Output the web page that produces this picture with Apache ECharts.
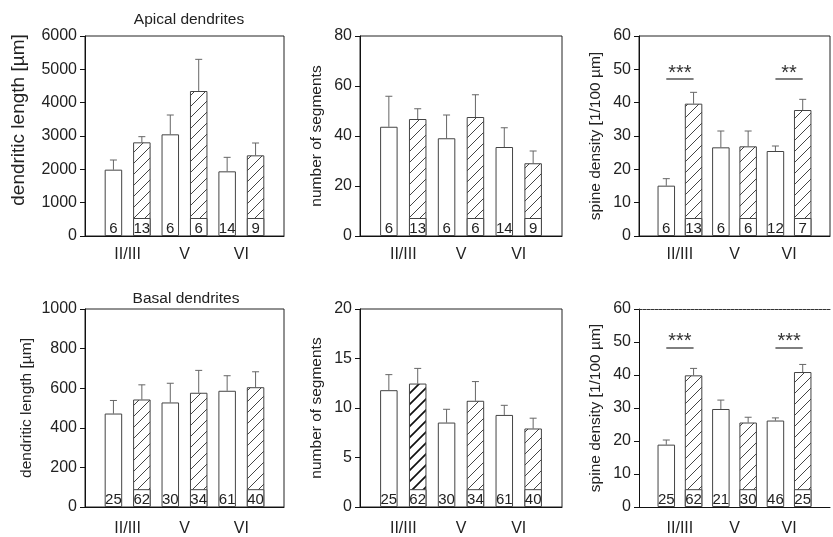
<!DOCTYPE html>
<html>
<head>
<meta charset="utf-8">
<script src="https://cdn.jsdelivr.net/npm/echarts@6/dist/echarts.min.js"></script>
<style>
html,body{margin:0;padding:0;background:#fff;}
#chart{width:833px;height:537px;}
</style>
</head>
<body>
<div id="chart"></div>
<script>
// ---- Data ----
const layers = ['II/III', 'V', 'VI'];

// Apical dendrites
const apicalLengthOpen = [1990, 3050, 1940];
const apicalLengthOpenErr = [290, 580, 420];
const apicalLengthHatch = [2810, 4350, 2420];
const apicalLengthHatchErr = [170, 950, 370];
const apicalSegOpen = [43.7, 39.1, 35.6];
const apicalSegOpenErr = [12.2, 9.3, 7.7];
const apicalSegHatch = [46.8, 47.6, 29.1];
const apicalSegHatchErr = [4.1, 8.9, 4.9];
const apicalSpineOpen = [15.1, 26.6, 25.5];
const apicalSpineOpenErr = [2.1, 4.9, 1.5];
const apicalSpineHatch = [39.7, 26.9, 37.8];
const apicalSpineHatchErr = [3.4, 4.6, 3.2];
const apicalNOpen = [6, 6, 14];
const apicalNHatch = [13, 6, 9];
const apicalSpineNOpen = [6, 6, 12];
const apicalSpineNHatch = [13, 6, 7];
const apicalSpineSig = ['***', '', '**'];
const apicalSpineSigLevel = [47.1, 0, 47.1];

// Basal dendrites
const basalLengthOpen = [472, 528, 587];
const basalLengthOpenErr = [66, 97, 76];
const basalLengthHatch = [543, 577, 605];
const basalLengthHatchErr = [74, 113, 78];
const basalSegOpen = [11.8, 8.53, 9.3];
const basalSegOpenErr = [1.57, 1.34, 0.97];
const basalSegHatch = [12.47, 10.73, 7.93];
const basalSegHatchErr = [1.53, 1.94, 1.04];
const basalSpineOpen = [18.9, 29.7, 26.2];
const basalSpineOpenErr = [1.4, 2.7, 0.8];
const basalSpineHatch = [39.9, 25.6, 40.9];
const basalSpineHatchErr = [2.1, 1.6, 2.3];
const basalNOpen = [25, 30, 61];
const basalNHatch = [62, 34, 40];
const basalSpineNOpen = [25, 21, 46];
const basalSpineNHatch = [62, 30, 25];
const basalSpineSig = ['***', '', '***'];
const basalSpineSigLevel = [48.3, 0, 48.3];

// ---- Hatch patterns ----
function makeHatch(color, lw) {
  const s = 11;
  const c = document.createElement('canvas');
  c.width = s; c.height = s;
  const g = c.getContext('2d');
  g.fillStyle = '#fff';
  g.fillRect(0, 0, s, s);
  g.strokeStyle = color;
  g.lineWidth = lw;
  g.beginPath();
  g.moveTo(-1, s + 1); g.lineTo(s + 1, -1);
  g.moveTo(-1, 1); g.lineTo(1, -1);
  g.moveTo(s - 1, s + 1); g.lineTo(s + 1, s - 1);
  g.stroke();
  return c;
}
const hatchNormal = makeHatch('#444', 1);
const hatchBold = makeHatch('#111', 1.7);

const FONT = 'Liberation Sans, Arial, Helvetica, sans-serif';

const panels = [
  { left: 85, top: 36, width: 199, max: 6000, interval: 1000, name: 'dendritic length [µm]', nameSize: 19, nameGap: 57, namePad: [0, 0, 0, 32],
    open: apicalLengthOpen, openErr: apicalLengthOpenErr, hatch: apicalLengthHatch, hatchErr: apicalLengthHatchErr, nOpen: apicalNOpen, nHatch: apicalNHatch },
  { left: 360, top: 36, width: 202, max: 80, interval: 20, name: 'number of segments', nameSize: 15.5, nameGap: 35,
    open: apicalSegOpen, openErr: apicalSegOpenErr, hatch: apicalSegHatch, hatchErr: apicalSegHatchErr, nOpen: apicalNOpen, nHatch: apicalNHatch },
  { left: 639, top: 36, width: 200, max: 60, interval: 10, name: 'spine density [1/100 µm]', nameSize: 15.5, nameGap: 35,
    open: apicalSpineOpen, openErr: apicalSpineOpenErr, hatch: apicalSpineHatch, hatchErr: apicalSpineHatchErr, nOpen: apicalSpineNOpen, nHatch: apicalSpineNHatch,
    sig: apicalSpineSig, sigLevel: apicalSpineSigLevel },
  { left: 85, top: 309, width: 199, max: 1000, interval: 200, name: 'dendritic length [µm]', nameSize: 15.5, nameGap: 50,
    open: basalLengthOpen, openErr: basalLengthOpenErr, hatch: basalLengthHatch, hatchErr: basalLengthHatchErr, nOpen: basalNOpen, nHatch: basalNHatch },
  { left: 360, top: 309, width: 202, max: 20, interval: 5, name: 'number of segments', nameSize: 15.5, nameGap: 35,
    open: basalSegOpen, openErr: basalSegOpenErr, hatch: basalSegHatch, hatchErr: basalSegHatchErr, nOpen: basalNOpen, nHatch: basalNHatch, boldFirst: true },
  { left: 639, top: 309, width: 200, max: 60, interval: 10, name: 'spine density [1/100 µm]', nameSize: 15.5, nameGap: 35,
    open: basalSpineOpen, openErr: basalSpineOpenErr, hatch: basalSpineHatch, hatchErr: basalSpineHatchErr, nOpen: basalSpineNOpen, nHatch: basalSpineNHatch,
    sig: basalSpineSig, sigLevel: basalSpineSigLevel, dottedTop: true }
];

const grid = [], xAxis = [], yAxis = [], series = [];
const BW = 17.5;
const barBorder = '#444';

panels.forEach((p, i) => {
  grid.push({ left: p.left, top: p.top, width: p.width, height: 200, show: !p.dottedTop, borderColor: '#222', borderWidth: 1, backgroundColor: 'transparent' });
  xAxis.push({
    type: 'value', gridIndex: i, min: 0, max: 7, interval: 0.5,
    axisLine: { show: true, onZero: false, lineStyle: { color: '#111', width: 1 } },
    axisTick: { show: false }, splitLine: { show: false },
    axisLabel: {
      margin: i < 3 ? 11 : 14, fontSize: 16, color: '#222', fontFamily: FONT,
      showMinLabel: true, showMaxLabel: true,
      formatter: v => { const k = (v - 1.5) / 2; return Number.isInteger(k) && k >= 0 && k < layers.length ? layers[k] : ''; }
    }
  });
  yAxis.push({
    type: 'value', gridIndex: i, min: 0, max: p.max, interval: p.interval,
    name: p.name, nameLocation: 'middle', nameGap: p.nameGap,
    nameTextStyle: { fontSize: p.nameSize, color: '#222', fontFamily: FONT, padding: p.namePad || 0 },
    axisLine: { show: true, lineStyle: { color: '#111', width: 1 } },
    axisTick: { show: true, inside: false, length: 5, lineStyle: { color: '#111' } },
    splitLine: { show: false },
    axisLabel: { margin: 8, fontSize: 16, color: '#222', fontFamily: FONT, formatter: v => String(v) }
  });

  const box = p.max * 0.09;
  const labelStyle = (arr) => ({
    show: true, position: 'insideBottom', distance: 0, fontSize: 15, color: '#222', fontFamily: FONT,
    formatter: prm => String(arr[prm.dataIndex])
  });

  // open bars
  const openSeries = {
    type: 'bar', xAxisIndex: i, yAxisIndex: i, barWidth: BW, barGap: '-100%',
    data: p.open.map((v, k) => [2 * k + 1, v]),
    itemStyle: { color: '#fff', borderColor: barBorder, borderWidth: 1 },
    label: labelStyle(p.nOpen), silent: true, z: 2
  };
  if (p.sig) {
    const ml = [];
    p.sig.forEach((s, k) => {
      if (!s) return;
      ml.push([{ coord: [2 * k + 1, p.sigLevel[k]], name: s }, { coord: [2 * k + 2, p.sigLevel[k]] }]);
    });
    openSeries.markLine = {
      symbol: ['none', 'none'], silent: true, animation: false,
      lineStyle: { color: '#555', width: 1.5, type: 'solid' },
      label: { show: true, position: 'insideMiddleTop', formatter: '{b}', fontSize: 20, color: '#333', fontFamily: FONT, distance: -4 },
      data: ml
    };
  }
  series.push(openSeries);

  // hatched bars (full height)
  series.push({
    type: 'bar', xAxisIndex: i, yAxisIndex: i, barWidth: BW, barGap: '-100%',
    data: p.hatch.map((v, k) => ({
      value: [2 * k + 2, v],
      itemStyle: { color: { image: (p.boldFirst && k === 0) ? hatchBold : hatchNormal, repeat: 'repeat' } }
    })),
    itemStyle: { borderColor: barBorder, borderWidth: 1 },
    silent: true, z: 2
  });
  // white box at the bottom of hatched bars with n
  series.push({
    type: 'bar', xAxisIndex: i, yAxisIndex: i, barWidth: BW, barGap: '-100%',
    data: p.hatch.map((v, k) => [2 * k + 2, box]),
    itemStyle: { color: '#fff', borderColor: barBorder, borderWidth: 1 },
    label: labelStyle(p.nHatch), silent: true, z: 2
  });

  // error bars (upper only)
  const errData = [];
  p.open.forEach((v, k) => errData.push([2 * k + 1, v, v + p.openErr[k]]));
  p.hatch.forEach((v, k) => errData.push([2 * k + 2, v, v + p.hatchErr[k]]));
  series.push({
    type: 'custom', xAxisIndex: i, yAxisIndex: i, silent: true, z: 1,
    data: errData,
    encode: { x: 0, y: [1, 2] },
    renderItem: (params, api) => {
      const x = api.value(0), y0 = api.value(1), y1 = api.value(2);
      const a = api.coord([x, y0]), b = api.coord([x, y1]);
      const st = { stroke: '#666', lineWidth: 1 };
      return {
        type: 'group', children: [
          { type: 'line', shape: { x1: a[0], y1: a[1], x2: b[0], y2: b[1] }, style: st },
          { type: 'line', shape: { x1: b[0] - 3.5, y1: b[1], x2: b[0] + 3.5, y2: b[1] }, style: st }
        ]
      };
    }
  });
});

// dotted top border for the last panel
xAxis.push({
  type: 'value', gridIndex: 5, position: 'top', min: 0, max: 7,
  axisLine: { show: true, onZero: false, lineStyle: { color: '#333', width: 1, type: [3, 1] } },
  axisTick: { show: false }, axisLabel: { show: false }, splitLine: { show: false }
});

const option = {
  animation: false,
  backgroundColor: '#fff',
  textStyle: { fontFamily: FONT },
  title: [
    { text: 'Apical dendrites', left: 184, top: 7, textAlign: 'center', textStyle: { fontSize: 15.5, fontWeight: 'normal', color: '#222', fontFamily: FONT } },
    { text: 'Basal dendrites', left: 181, top: 286, textAlign: 'center', textStyle: { fontSize: 15.5, fontWeight: 'normal', color: '#222', fontFamily: FONT } }
  ],
  grid, xAxis, yAxis, series
};

const chart = echarts.init(document.getElementById('chart'), null, { renderer: 'canvas' });
chart.setOption(option);
</script>
</body>
</html>
